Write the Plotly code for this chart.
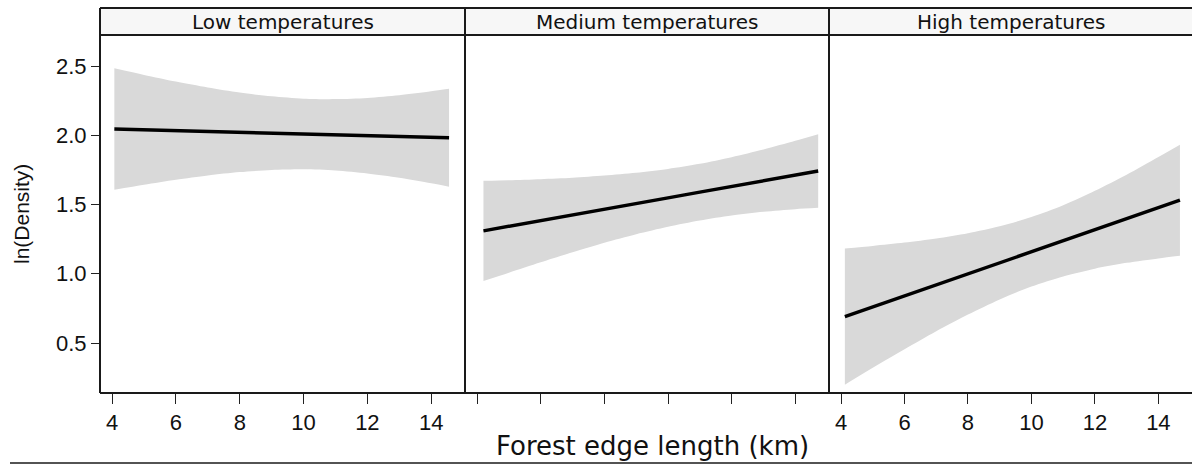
import plotly.graph_objects as go

# Fitted ln(Density) vs forest edge length, with confidence band, per temperature class
panels = ["Low temperatures", "Medium temperatures", "High temperatures"]

low_x = [4.07, 5, 6, 7, 8, 9, 10, 11, 12, 13, 14, 14.56]
low_fit = [2.045, 2.039, 2.033, 2.027, 2.021, 2.015, 2.009, 2.003, 1.997, 1.991, 1.985, 1.982]
low_upper = [2.484, 2.436, 2.388, 2.345, 2.308, 2.281, 2.264, 2.261, 2.270, 2.289, 2.317, 2.335]
low_lower = [1.606, 1.642, 1.678, 1.709, 1.734, 1.749, 1.754, 1.745, 1.724, 1.693, 1.653, 1.629]

med_x = [4.2, 5, 6, 7, 8, 9, 10, 11, 12, 13, 14, 14.72]
med_fit = [1.310, 1.342, 1.383, 1.424, 1.466, 1.507, 1.548, 1.589, 1.631, 1.672, 1.713, 1.742]
med_upper = [1.672, 1.676, 1.683, 1.693, 1.709, 1.729, 1.757, 1.794, 1.842, 1.897, 1.960, 2.008]
med_lower = [0.948, 1.008, 1.083, 1.155, 1.224, 1.285, 1.339, 1.384, 1.420, 1.447, 1.466, 1.476]

high_x = [4.12, 5, 6, 7, 8, 9, 10, 11, 12, 13, 14, 14.68]
high_fit = [0.691, 0.761, 0.840, 0.920, 0.999, 1.079, 1.159, 1.238, 1.318, 1.397, 1.477, 1.531]
high_upper = [1.183, 1.201, 1.225, 1.255, 1.293, 1.343, 1.410, 1.495, 1.599, 1.715, 1.843, 1.932]
high_lower = [0.199, 0.321, 0.455, 0.585, 0.705, 0.815, 0.908, 0.981, 1.037, 1.079, 1.111, 1.130]

x_ticks = [4, 6, 8, 10, 12, 14]
y_ticks = [0.5, 1.0, 1.5, 2.0, 2.5]
y_tick_text = ["0.5", "1.0", "1.5", "2.0", "2.5"]

series = [
    (low_x, low_fit, low_upper, low_lower),
    (med_x, med_fit, med_upper, med_lower),
    (high_x, high_fit, high_upper, high_lower),
]

W, H = 1192, 469


def fx(p):
    return p / W


def fy(p):
    return 1 - p / H


col_px = [(100, 465), (465, 829), (829, 1192)]
plot_top, plot_bottom = 35, 393
strip_top = 8

fig = go.Figure()

for i, (xs, fit, up, lo) in enumerate(series):
    ax = "" if i == 0 else str(i + 1)
    # lower edge, then upper edge filled down to it, both smoothed
    fig.add_trace(go.Scatter(
        x=xs, y=lo, mode="lines", line=dict(width=0, shape="spline", smoothing=0.8),
        hoverinfo="skip", showlegend=False, xaxis="x" + ax, yaxis="y" + ax,
    ))
    fig.add_trace(go.Scatter(
        x=xs, y=up, mode="lines", fill="tonexty", fillcolor="#d9d9d9",
        line=dict(width=0, shape="spline", smoothing=0.8),
        hoverinfo="skip", showlegend=False, xaxis="x" + ax, yaxis="y" + ax,
    ))
    fig.add_trace(go.Scatter(
        x=xs, y=fit, mode="lines", line=dict(color="black", width=3.4),
        showlegend=False, xaxis="x" + ax, yaxis="y" + ax,
    ))

tick_font = dict(family="Liberation Sans, Arial", size=22, color="#111")
layout = dict(
    width=W, height=H,
    margin=dict(l=0, r=0, t=0, b=0),
    paper_bgcolor="white", plot_bgcolor="white",
    showlegend=False,
)

for i, (a, b) in enumerate(col_px):
    ax = "" if i == 0 else str(i + 1)
    layout["xaxis" + ax] = dict(
        domain=[fx(a), fx(b)], range=[3.62, 15.06],
        anchor="y" + ax, showgrid=False, zeroline=False, showline=False,
        tickvals=x_ticks, ticktext=[str(t) for t in x_ticks],
        ticks="outside", ticklen=10, tickwidth=1.3, tickcolor="#222",
        showticklabels=(i != 1), tickfont=tick_font,
    )
    layout["yaxis" + ax] = dict(
        domain=[fy(plot_bottom), fy(plot_top)], range=[0.139, 2.724],
        anchor="x" + ax, showgrid=False, zeroline=False, showline=False,
        tickvals=y_ticks if i == 0 else [], ticktext=y_tick_text if i == 0 else [],
        ticks="outside" if i == 0 else "", ticklen=8, tickwidth=1.3, tickcolor="#222",
        showticklabels=(i == 0), tickfont=tick_font,
    )

fig.update_layout(**layout)

border = dict(color="#1a1a1a", width=2)
shapes = []
# strip boxes and header text
for i, (a, b) in enumerate(col_px):
    shapes.append(dict(type="rect", xref="paper", yref="paper",
                       x0=fx(a), x1=fx(b), y0=fy(plot_top), y1=fy(strip_top),
                       fillcolor="#f7f7f7", line=dict(width=0), layer="below"))
    fig.add_annotation(x=fx((a + b) / 2), y=fy(22), xref="paper", yref="paper",
                       xanchor="center", yanchor="middle",
                       text=panels[i], showarrow=False,
                       font=dict(family="DejaVu Sans, Verdana", size=20, color="#111"))
# horizontal rules: top of strips, bottom of strips, x axis line
for yy in (strip_top, plot_top, plot_bottom):
    shapes.append(dict(type="line", xref="paper", yref="paper",
                       x0=fx(100), x1=fx(1192), y0=fy(yy), y1=fy(yy), line=border))
# y axis line and panel dividers
shapes.append(dict(type="line", xref="paper", yref="paper",
                   x0=fx(100), x1=fx(100), y0=fy(plot_bottom), y1=fy(strip_top), line=border))
for xx in (465, 829):
    shapes.append(dict(type="line", xref="paper", yref="paper",
                       x0=fx(xx), x1=fx(xx), y0=fy(plot_bottom), y1=fy(strip_top), line=border))
# rule beneath the figure
shapes.append(dict(type="line", xref="paper", yref="paper",
                   x0=fx(10), x1=fx(1192), y0=fy(463), y1=fy(463),
                   line=dict(color="#1a1a1a", width=1.5)))
fig.update_layout(shapes=shapes)

fig.add_annotation(x=fx(652), y=fy(446), xref="paper", yref="paper",
                   xanchor="center", yanchor="middle",
                   text="Forest edge length (km)", showarrow=False,
                   font=dict(family="DejaVu Sans, Verdana", size=26, color="#111"))
fig.add_annotation(x=fx(22), y=fy(214), xref="paper", yref="paper",
                   xanchor="center", yanchor="middle",
                   text="ln(Density)", showarrow=False, textangle=-90,
                   font=dict(family="Liberation Sans, Arial", size=21, color="#111"))

fig.write_html("out.html")
